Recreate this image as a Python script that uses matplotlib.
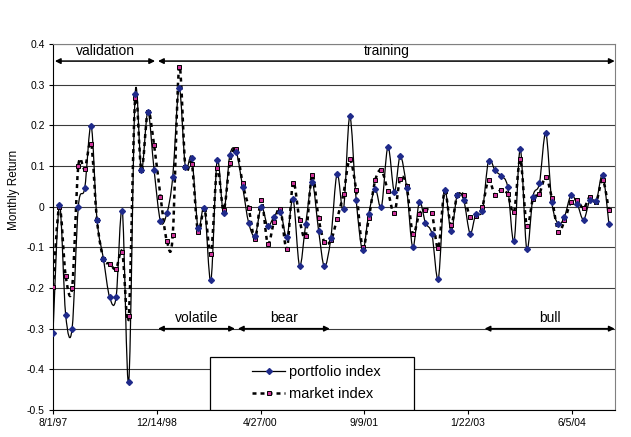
import numpy as np
import pandas as pd
import matplotlib
matplotlib.use("Agg")
import matplotlib.pyplot as plt
import matplotlib.dates as mdates
from matplotlib.path import Path
from matplotlib.patches import PathPatch, Rectangle
from matplotlib.lines import Line2D

plt.rcParams['font.family'] = ['Liberation Sans', 'DejaVu Sans']

# monthly returns, Aug 1997 .. Dec 2004
months = pd.date_range('1997-08-01', periods=89, freq='MS')
portfolio = [-0.31, 0.005, -0.266, -0.30, 0.0, 0.046, 0.199, -0.032, -0.128, -0.223,
             -0.223, -0.01, -0.43, 0.277, 0.089, 0.233, 0.091, -0.036, -0.016, 0.073,
             0.292, 0.098, 0.12, -0.052, -0.003, -0.181, 0.115, -0.016, 0.126, 0.135,
             0.048, -0.04, -0.071, 0.0, -0.047, -0.025, -0.012, -0.075, 0.019, -0.145,
             -0.042, 0.06, -0.059, -0.147, -0.077, 0.081, -0.006, 0.222, 0.017, -0.107,
             -0.017, 0.043, 0.0, 0.147, 0.037, 0.124, 0.047, -0.1, 0.011, -0.04,
             -0.067, -0.177, 0.04, -0.061, 0.028, 0.017, -0.066, -0.017, -0.01, 0.113,
             0.089, 0.075, 0.049, -0.085, 0.142, -0.104, 0.025, 0.057, 0.181, 0.011,
             -0.042, -0.025, 0.028, 0.007, -0.032, 0.017, 0.013, 0.078, -0.042]
market = [-0.198, 0.0, -0.17, -0.20, 0.10, 0.093, 0.154, -0.034, -0.128, -0.14,
          -0.153, -0.112, -0.27, 0.266, 0.089, 0.234, 0.152, 0.025, -0.085, -0.07,
          0.343, 0.098, 0.105, -0.062, -0.005, -0.116, 0.095, -0.008, 0.107, 0.142,
          0.057, -0.003, -0.08, 0.017, -0.091, -0.037, -0.006, -0.104, 0.059, -0.032,
          -0.071, 0.079, -0.029, -0.087, -0.083, -0.03, 0.032, 0.116, 0.04, -0.1,
          -0.028, 0.065, 0.089, 0.038, -0.016, 0.068, 0.052, -0.066, -0.018, -0.007,
          -0.016, -0.102, 0.038, -0.045, 0.028, 0.028, -0.026, -0.024, -0.001, 0.066,
          0.029, 0.042, 0.031, -0.012, 0.116, -0.047, 0.019, 0.032, 0.073, 0.021,
          -0.062, -0.034, 0.011, 0.016, -0.004, 0.025, 0.012, 0.066, -0.009]

start = pd.Timestamp('1997-08-01')
tick_dates = [start + pd.Timedelta(days=500 * k) for k in range(6)]
y_ticks = [-0.5, -0.4, -0.3, -0.2, -0.1, 0.0, 0.1, 0.2, 0.3, 0.4]

# period arrows: (label, start, end, y of arrow)
periods = [('validation', '1997-08-10', '1998-12-06', 0.358),
           ('training', '1998-12-20', '2004-12-29', 0.358),
           ('volatile', '1998-12-20', '1999-12-26', -0.30),
           ('bear', '2000-01-09', '2001-03-27', -0.30),
           ('bull', '2003-04-12', '2004-12-29', -0.30)]


def smooth(x, y):
    # excel-style smoothed line as cubic bezier segments
    verts = [(x[0], y[0])]
    codes = [Path.MOVETO]
    n = len(x)
    for i in range(n - 1):
        xa, ya = (x[i - 1], y[i - 1]) if i > 0 else (x[i], y[i])
        xb, yb = (x[i + 2], y[i + 2]) if i + 2 < n else (x[i + 1], y[i + 1])
        verts.append((x[i] + (x[i + 1] - xa) / 6, y[i] + (y[i + 1] - ya) / 6))
        verts.append((x[i + 1] - (xb - x[i]) / 6, y[i + 1] - (yb - y[i]) / 6))
        verts.append((x[i + 1], y[i + 1]))
        codes += [Path.CURVE4] * 3
    return Path(verts, codes)


fig = plt.figure(figsize=(6.31, 4.37), dpi=100)
ax = fig.add_axes([0.084, 0.0618, 0.8905, 0.8375])

xs = mdates.date2num(months)
ax.add_patch(PathPatch(smooth(xs, np.array(market)), fill=False, ec='black',
                       lw=1.8, ls=(0, (1.6, 1.6)), zorder=3))
ax.add_patch(PathPatch(smooth(xs, np.array(portfolio)), fill=False, ec='black',
                       lw=0.9, zorder=4))
ax.plot(months, market, ls='none', marker='s', ms=3.2, mfc='#CC3399', mec='black',
        mew=0.7, zorder=5)
ax.plot(months, portfolio, ls='none', marker='D', ms=3.0, mfc='#1F2A8A',
        mec='#1F2A8A', zorder=6)

ax.set_xlim(start, pd.Timestamp('2004-12-30'))
ax.set_ylim(-0.5, 0.4)
ax.set_xticks(tick_dates)
ax.set_xticklabels([f"{d.month}/{d.day}/{d.year % 100:02d}" for d in tick_dates], fontsize=7.5)
ax.set_yticks(y_ticks)
ax.set_yticklabels([f"{v:g}" for v in y_ticks], fontsize=7.5)
ax.tick_params(length=3, width=0.8, pad=3)
ax.set_ylabel('Monthly Return', fontsize=8.5)
ax.yaxis.set_label_coords(-0.058, 0.6)

for v in y_ticks:
    ax.axhline(v, color='#3a3a3a', lw=0.8, zorder=1)
for s in ['top', 'right']:
    ax.spines[s].set_color('#808080')
for s in ['left', 'bottom']:
    ax.spines[s].set_color('black')

for label, a, b, yv in periods:
    a, b = pd.Timestamp(a), pd.Timestamp(b)
    ax.annotate('', xy=(b, yv), xytext=(a, yv),
                arrowprops=dict(arrowstyle='<|-|>', color='black', lw=1.1,
                                mutation_scale=8, shrinkA=0, shrinkB=0), zorder=7)
    mid = a + (b - a) / 2
    ax.text(mid, yv + 0.008, label, ha='center', va='bottom', fontsize=10, zorder=7)

ax.add_patch(Rectangle((0.279, 0.0), 0.363, 0.145, transform=ax.transAxes,
                       fc='white', ec='black', lw=0.9, zorder=8))
handles = [Line2D([], [], color='black', lw=0.9, marker='D', ms=3.0,
                  mfc='#1F2A8A', mec='#1F2A8A'),
           Line2D([], [], color='black', lw=1.8, ls=(0, (1.6, 1.6)), marker='s', ms=3.2,
                  mfc='#CC3399', mec='black', mew=0.7)]
leg = ax.legend(handles, ['portfolio index', 'market index'], loc='center left',
                bbox_to_anchor=(0.355, 0.0725), frameon=False, fontsize=10.5,
                handlelength=2.2, handletextpad=0.3, labelspacing=0.55,
                borderaxespad=0, borderpad=0)
leg.set_zorder(9)

fig.savefig('out.png', dpi=100)
